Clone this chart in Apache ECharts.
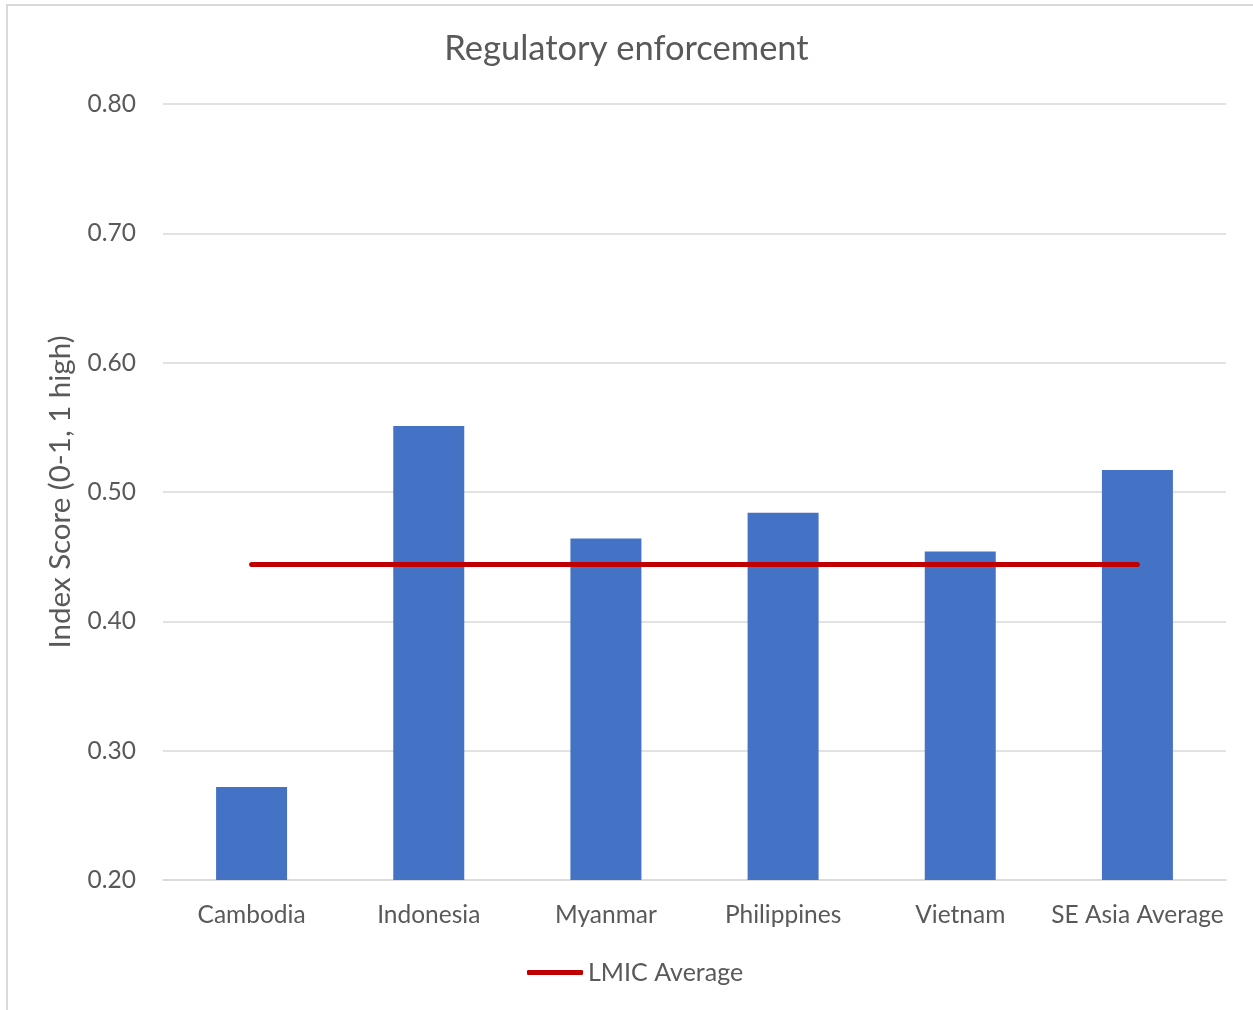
<!DOCTYPE html>
<html>
<head>
<meta charset="utf-8">
<script src="https://cdn.jsdelivr.net/npm/echarts@6/dist/echarts.min.js"></script>
<style>
  html, body { margin: 0; padding: 0; background: #fff; }
  #chart { width: 1253px; height: 1010px; }
</style>
</head>
<body>
<div id="chart"></div>
<script>
// Regulatory enforcement index scores by country
const categories = ['Cambodia', 'Indonesia', 'Myanmar', 'Philippines', 'Vietnam', 'SE Asia Average'];
const scores = [0.272, 0.551, 0.464, 0.484, 0.454, 0.517];
const lmicAverage = [0.444, 0.444, 0.444, 0.444, 0.444, 0.444];
const yTicks = { min: 0.2, max: 0.8, step: 0.1 };

const FONT = 'Lato, "Open Sans", sans-serif';
const TEXT = '#595959';
const GRID = '#d9d9d9';

const chart = echarts.init(document.getElementById('chart'), null, { renderer: 'canvas' });

chart.setOption({
  animation: false,
  backgroundColor: '#ffffff',
  textStyle: { fontFamily: FONT },
  graphic: [{
    type: 'rect',
    shape: { x: 7, y: 5, width: 1260, height: 1020 },
    style: { fill: 'none', stroke: GRID, lineWidth: 2 },
    silent: true
  }],
  title: {
    text: 'Regulatory enforcement',
    left: 'center',
    top: 26,
    textStyle: { fontFamily: FONT, fontSize: 34.5, fontWeight: 'normal', color: TEXT }
  },
  legend: {
    data: [{ name: 'LMIC Average', icon: 'roundRect' }],
    bottom: 20,
    left: 522,
    itemWidth: 56,
    itemHeight: 5,
    itemGap: 4,
    textStyle: { fontFamily: FONT, fontSize: 25, color: TEXT }
  },
  grid: { left: 163, right: 27, top: 104, bottom: 130, containLabel: false },
  xAxis: {
    type: 'category',
    data: categories,
    axisLine: { show: true, lineStyle: { color: GRID, width: 1.5 } },
    axisTick: { show: false },
    axisLabel: { color: TEXT, fontSize: 24.5, fontFamily: FONT, margin: 23, interval: 0 }
  },
  yAxis: {
    type: 'value',
    min: yTicks.min,
    max: yTicks.max,
    interval: yTicks.step,
    name: 'Index Score (0-1, 1 high)',
    nameLocation: 'middle',
    nameGap: 88,
    nameTextStyle: { color: TEXT, fontSize: 29.5, fontFamily: FONT },
    axisLine: { show: false },
    axisTick: { show: false },
    axisLabel: { color: TEXT, fontSize: 24.5, fontFamily: FONT, margin: 27, formatter: v => v.toFixed(2) },
    splitLine: { lineStyle: { color: GRID, width: 1.5 } }
  },
  series: [
    {
      name: 'Index Score',
      type: 'bar',
      data: scores,
      barWidth: 71,
      itemStyle: { color: '#4472c4' }
    },
    {
      name: 'LMIC Average',
      type: 'line',
      data: lmicAverage,
      symbol: 'none',
      lineStyle: { color: '#c00000', width: 5, cap: 'round' },
      itemStyle: { color: '#c00000' },
      z: 5
    }
  ]
});
</script>
</body>
</html>
